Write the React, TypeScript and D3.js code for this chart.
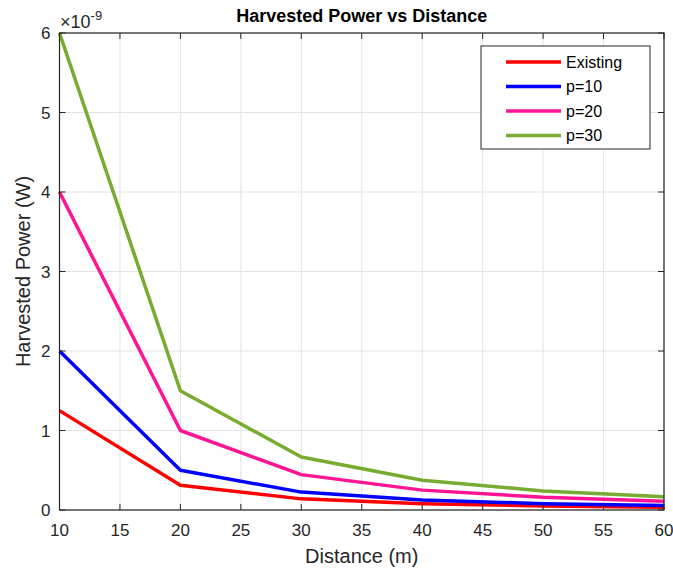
import React from "react";
import * as d3 from "d3";

const distances = [10, 20, 30, 40, 50, 60];
const existing = [1.25, 0.31, 0.14, 0.08, 0.05, 0.035];
const p10 = [2.0, 0.5, 0.225, 0.125, 0.08, 0.056];
const p20 = [4.0, 1.0, 0.445, 0.25, 0.16, 0.111];
const p30 = [6.0, 1.5, 0.667, 0.375, 0.24, 0.167];
const seriesNames = ["Existing", "p=10", "p=20", "p=30"];
const seriesColors = ["#ff0000", "#0000ff", "#ff1493", "#77ac30"];
const xTicks = [10, 15, 20, 25, 30, 35, 40, 45, 50, 55, 60];
const yTicks = [0, 1, 2, 3, 4, 5, 6];

const W = 673, H = 572;
const L = 59.5, R = 664, T = 33, B = 510;
const font = "'Liberation Sans', Arial, Helvetica, sans-serif";

export default function App() {
  const x = d3.scaleLinear().domain([10, 60]).range([L, R]);
  const y = d3.scaleLinear().domain([0, 6]).range([B, T]);
  const all = [existing, p10, p20, p30];
  const line = d3.line<number>().x((_, i) => x(distances[i])).y((v) => y(v));
  const tl = 6;
  return (
    <svg width={W} height={H} style={{ position: "absolute", left: 0, top: 0, background: "#fff" }}>
      <rect x={0} y={0} width={W} height={H} fill="#fff" />
      {xTicks.map((t) => (
        <line key={"gx" + t} x1={x(t)} x2={x(t)} y1={T} y2={B} stroke="#e3e3e3" strokeWidth={1} />
      ))}
      {yTicks.map((t) => (
        <line key={"gy" + t} x1={L} x2={R} y1={y(t)} y2={y(t)} stroke="#e3e3e3" strokeWidth={1} />
      ))}
      {all.map((s, i) => (
        <path key={i} d={line(s) || ""} fill="none" stroke={seriesColors[i]} strokeWidth={3.5} strokeLinejoin="round" />
      ))}
      <rect x={L} y={T} width={R - L} height={B - T} fill="none" stroke="#262626" strokeWidth={1.2} />
      {xTicks.map((t) => (
        <g key={"tx" + t}>
          <line x1={x(t)} x2={x(t)} y1={B} y2={B - tl} stroke="#262626" />
          <line x1={x(t)} x2={x(t)} y1={T} y2={T + tl} stroke="#262626" />
          <text x={x(t)} y={B + 26} textAnchor="middle" fontFamily={font} fontSize={17} fill="#262626">{t}</text>
        </g>
      ))}
      {yTicks.map((t) => (
        <g key={"ty" + t}>
          <line x1={L} x2={L + tl} y1={y(t)} y2={y(t)} stroke="#262626" />
          <line x1={R} x2={R - tl} y1={y(t)} y2={y(t)} stroke="#262626" />
          <text x={L - 9} y={y(t) + 6} textAnchor="end" fontFamily={font} fontSize={17} fill="#262626">{t}</text>
        </g>
      ))}
      <text x={60} y={28} fontFamily={font} fontSize={18} fill="#262626">
        ×10<tspan dy={-8} fontSize={13}>-9</tspan>
      </text>
      <text x={(L + R) / 2} y={22} textAnchor="middle" fontFamily={font} fontSize={18} fontWeight="bold" fill="#000">Harvested Power vs Distance</text>
      <text x={(L + R) / 2} y={563} textAnchor="middle" fontFamily={font} fontSize={20} fill="#262626">Distance (m)</text>
      <text transform={`translate(30,${(T + B) / 2}) rotate(-90)`} textAnchor="middle" fontFamily={font} fontSize={20} fill="#262626">Harvested Power (W)</text>
      <g>
        <rect x={481} y={46} width={169} height={103} fill="#fff" stroke="#262626" strokeWidth={1} />
        {seriesNames.map((n, i) => (
          <g key={n}>
            <line x1={506} x2={561} y1={62 + i * 24.5} y2={62 + i * 24.5} stroke={seriesColors[i]} strokeWidth={3.5} />
            <text x={566} y={62 + i * 24.5 + 5.5} fontFamily={font} fontSize={16} fill="#000">{n}</text>
          </g>
        ))}
      </g>
    </svg>
  );
}
